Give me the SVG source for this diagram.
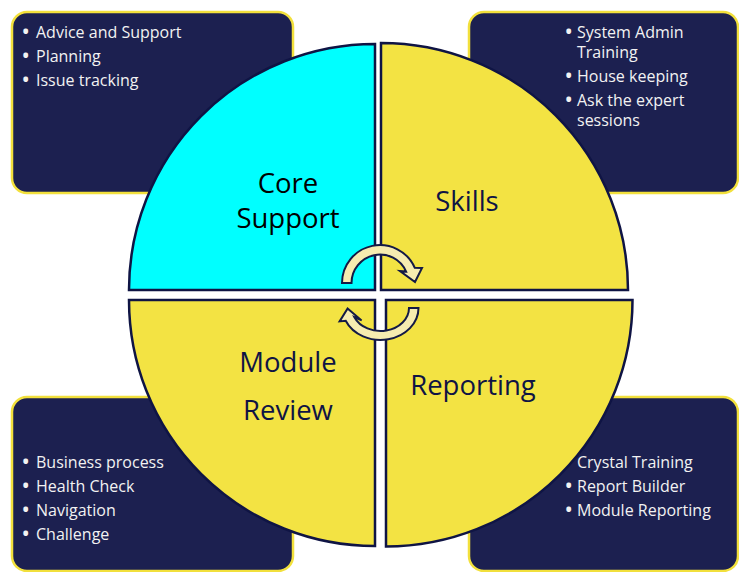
<svg xmlns="http://www.w3.org/2000/svg" width="739" height="572" viewBox="0 0 739 572">
<style>
.box{fill:#1c2050;stroke:#f2e03c;stroke-width:2.5}
.bt{font-family:"Open Sans","Noto Sans",sans-serif;font-size:16px;fill:#f2f2f2}
.bu{font-size:17px;font-weight:bold}
.q{stroke:#0f1444;stroke-width:2.5;stroke-linejoin:miter}
.cy{fill:#00ffff}
.ye{fill:#f3e343}
.lab{font-family:"Open Sans","Noto Sans",sans-serif;font-size:27.5px;text-anchor:middle;fill:#0f1444}
.blk{fill:#000000}
.arr{fill:#f6ecb0;stroke:#141a45;stroke-width:2;stroke-linejoin:miter}
</style>
<rect width="739" height="572" fill="#ffffff"/>
<g id="box-core">
<rect class="box" x="12" y="12" width="281" height="181" rx="15"/>
<text class="bt" y="38"><tspan class="bu" x="22.5">•</tspan><tspan x="36">Advice and Support</tspan></text>
<text class="bt" y="62"><tspan class="bu" x="22.5">•</tspan><tspan x="36">Planning</tspan></text>
<text class="bt" y="86"><tspan class="bu" x="22.5">•</tspan><tspan x="36">Issue tracking</tspan></text>
</g>
<g id="box-skills">
<rect class="box" x="469" y="12" width="269" height="181" rx="15"/>
<text class="bt" y="38"><tspan class="bu" x="565.5">•</tspan><tspan x="577">System Admin</tspan><tspan x="577" dy="20">Training</tspan></text>
<text class="bt" y="82"><tspan class="bu" x="565.5">•</tspan><tspan x="577">House keeping</tspan></text>
<text class="bt" y="106"><tspan class="bu" x="565.5">•</tspan><tspan x="577">Ask the expert</tspan><tspan x="577" dy="20">sessions</tspan></text>
</g>
<g id="box-review">
<rect class="box" x="12" y="397" width="281" height="174" rx="15"/>
<text class="bt" y="468"><tspan class="bu" x="22.5">•</tspan><tspan x="36">Business process</tspan></text>
<text class="bt" y="492"><tspan class="bu" x="22.5">•</tspan><tspan x="36">Health Check</tspan></text>
<text class="bt" y="516"><tspan class="bu" x="22.5">•</tspan><tspan x="36">Navigation</tspan></text>
<text class="bt" y="540"><tspan class="bu" x="22.5">•</tspan><tspan x="36">Challenge</tspan></text>
</g>
<g id="box-reporting">
<rect class="box" x="469" y="397" width="269" height="174" rx="15"/>
<text class="bt" y="468"><tspan class="bu" x="565.5">•</tspan><tspan x="577">Crystal Training</tspan></text>
<text class="bt" y="492"><tspan class="bu" x="565.5">•</tspan><tspan x="577">Report Builder</tspan></text>
<text class="bt" y="516"><tspan class="bu" x="565.5">•</tspan><tspan x="577">Module Reporting</tspan></text>
</g>
<g id="core-support">
<path class="q cy" d="M375,290 L129,290 A246,246 0 0 1 375,44 Z"/>
<text class="lab blk" x="288" y="193">Core</text>
<text class="lab blk" x="288" y="228">Support</text>
</g>
<g id="skills">
<path class="q ye" d="M381,290 L381,43 A247,247 0 0 1 628,290 Z"/>
<text class="lab" x="467" y="211">Skills</text>
</g>
<g id="module-review">
<path class="q ye" d="M375,300 L129,300 A246,246 0 0 0 375,546 Z"/>
<text class="lab" x="288" y="372">Module</text>
<text class="lab" x="288" y="420">Review</text>
</g>
<g id="reporting">
<path class="q ye" d="M386,300 L632.5,300 A246.5,246.5 0 0 1 386,546.5 Z"/>
<text class="lab" x="473" y="395">Reporting</text>
</g>
<g id="connectors">
<path class="arr" d="M342,283 A38,38 0 0 1 414.8,267.8 L422,268 L415,282 L400,271 L406.1,271.6 A28.5,28.5 0 0 0 351.5,283 Z"/>
<path class="arr" d="M418.5,308 A38,32 0 0 1 345.7,320.8 L339.6,321.4 L347.6,308.4 L361.6,320.4 L354.4,317.2 A28.5,23 0 0 0 409,308 Z"/>
</g>
</svg>
